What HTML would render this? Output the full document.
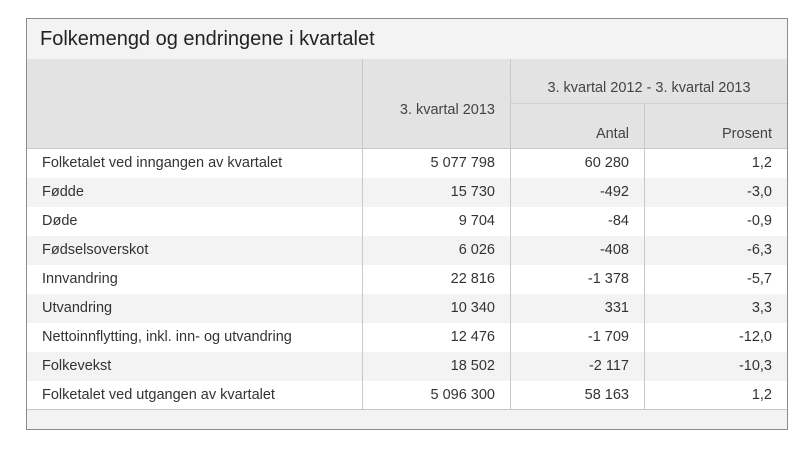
<!DOCTYPE html>
<html><head><meta charset="utf-8"><style>
body{margin:0;background:#fff;font-family:"Liberation Sans",sans-serif;color:#333;}
.box{position:absolute;left:26px;top:18px;width:760px;height:410px;border:1px solid #8c8c8c;background:#f3f3f3;overflow:hidden;}
.title{position:absolute;left:13px;top:9px;font-size:20px;color:#222;}
.hd{position:absolute;left:0;top:40px;width:760px;height:89px;background:#e3e3e3;border-bottom:1px solid #c8c8c8;}
.t{position:absolute;font-size:14.5px;white-space:nowrap;}
.r{text-align:right;}
.v{position:absolute;width:1px;background:#c8c8c8;}
.row{position:absolute;left:0;width:760px;height:29px;}
</style></head><body>
<div class="box">
<div class="title">Folkemengd og endringene i kvartalet</div>
<div class="hd">
<div class="v" style="left:335px;top:0;height:89px"></div>
<div class="v" style="left:483px;top:0;height:89px"></div>
<div class="v" style="left:617px;top:44px;height:45px"></div>
<div style="position:absolute;left:484px;top:44px;width:276px;height:1px;background:#d0d0d0"></div>
<div class="t r" style="right:292px;top:43px;color:#444">3. kvartal 2013</div>
<div class="t" style="left:484px;width:276px;text-align:center;top:21px;color:#444">3. kvartal 2012 - 3. kvartal 2013</div>
<div class="t r" style="right:158px;top:67px;color:#444">Antal</div>
<div class="t r" style="right:15px;top:67px;color:#444">Prosent</div>
</div>
<div id="rows"></div>
<div style="position:absolute;left:0;top:390px;width:760px;height:1px;background:#c8c8c8"></div>
<div class="v" style="left:335px;top:130px;height:260px"></div>
<div class="v" style="left:483px;top:130px;height:260px"></div>
<div class="v" style="left:617px;top:130px;height:260px"></div>
</div>
<script>
var d=[["Folketalet ved inngangen av kvartalet","5 077 798","60 280","1,2"],["Fødde","15 730","-492","-3,0"],["Døde","9 704","-84","-0,9"],["Fødselsoverskot","6 026","-408","-6,3"],["Innvandring","22 816","-1 378","-5,7"],["Utvandring","10 340","331","3,3"],["Nettoinnflytting, inkl. inn- og utvandring","12 476","-1 709","-12,0"],["Folkevekst","18 502","-2 117","-10,3"],["Folketalet ved utgangen av kvartalet","5 096 300","58 163","1,2"]];
var h="";d.forEach(function(r,i){var y=130+i*29;h+='<div class="row" style="top:'+y+'px;background:'+(i%2?'#f3f3f3':'#fff')+'">'+
'<div class="t" style="left:15px;top:6px">'+r[0]+'</div>'+
'<div class="t r" style="right:292px;top:6px">'+r[1]+'</div>'+
'<div class="t r" style="right:158px;top:6px">'+r[2]+'</div>'+
'<div class="t r" style="right:15px;top:6px">'+r[3]+'</div></div>';});
document.getElementById("rows").innerHTML=h;
</script>
</body></html>
